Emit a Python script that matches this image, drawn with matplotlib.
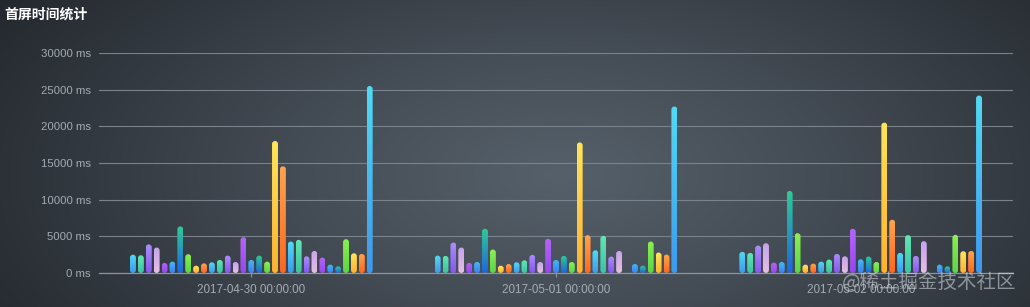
import numpy as np
import matplotlib
matplotlib.use('Agg')
import matplotlib.pyplot as plt
from matplotlib.patches import FancyBboxPatch
from matplotlib.colors import LinearSegmentedColormap, to_rgb

# ---------------- data ----------------
categories = ['2017-04-30 00:00:00', '2017-05-01 00:00:00', '2017-05-02 00:00:00']
n_series = 31
nan = np.nan
day_0430 = [2500, 2420, 3900, 3470, 1370, 1550, 6350, 2560, 1000, 1320,
            1460, 1780, 2370, 1500, 4890, 1780, 2370, 1550, 18000, 14550,
            4290, 4520, 2280, 3010, 2100, 1140, 910, 4610, 2690, 2600, 25500]
day_0501 = [2370, 2330, 4150, 3470, 1370, 1500, 6030, 3200, 1000, 1230,
            1460, 1730, 2470, 1500, 4660, 1780, 2330, 1500, 17800, 5160,
            3100, 5070, 2240, 3010, nan, 1230, 1000, 4290, 2790, 2510, 22700]
day_0502 = [2880, 2740, 3740, 4060, 1420, 1500, 11190, 5430, 1140, 1280,
            1550, 1830, 2600, 2280, 6030, 1870, 2240, 1500, 20500, 7260,
            2740, 5160, 2330, 4340, nan, 1140, 910, 5200, 2970, 3010, 24200]
yticks = [0, 5000, 10000, 15000, 20000, 25000, 30000]
ytick_labels = [f'{v} ms' for v in yticks]
title = '首屏时间统计'
watermark = '@稀土掘金技术社区'

# (top colour, bottom colour) gradient pairs, cycling
palette = [('#50dcf4', '#3f98ee'), ('#62e8b2', '#3cc2a6'), ('#ab8ffa', '#8656f2'),
           ('#c8a2ec', '#e6bfe2'), ('#b466f7', '#9646ef'), ('#42bcf8', '#3a7ff2'),
           ('#2ecc96', '#1e66de'), ('#8cf050', '#5cd448'), ('#ffe55c', '#ffb22e'),
           ('#ffa44e', '#ff661e')]

W_PX, H_PX = 1030, 307
fig = plt.figure(figsize=(W_PX / 100, H_PX / 100), dpi=100)

# background radial gradient
bg = fig.add_axes([0, 0, 1, 1], zorder=0)
yy, xx = np.mgrid[0:H_PX, 0:W_PX]
r = np.sqrt(((xx - 560) / 680.0) ** 2 + ((yy - 175) / 340.0) ** 2)
r = np.clip(r, 0, 1) ** 1.1
c_in = np.array(to_rgb('#56606a'))
c_out = np.array(to_rgb('#22262c'))
img = c_in * (1 - r)[..., None] + c_out * r[..., None]
bg.imshow(img, aspect='auto', extent=[0, 1, 0, 1], origin='upper')
bg.set_axis_off()

# main axes
left, right, bottom, top = 99, 1013, 273, 53
ax = fig.add_axes([left / W_PX, 1 - bottom / H_PX, (right - left) / W_PX, (bottom - top) / H_PX], zorder=1)
ax.patch.set_alpha(0)
ax.set_xlim(-0.5, len(categories) - 0.5)
ax.set_ylim(0, 30000)

step = 0.0259
width = 0.0195
x_idx = np.arange(len(categories))
day_values = np.array([day_0430, day_0501, day_0502], dtype=float)

dx_per_px = (len(categories)) / (right - left)
dy_per_px = 30000 / (bottom - top)
m_aspect = dy_per_px / dx_per_px

grad = np.linspace(0, 1, 128)[:, None]
for j in range(n_series):
    heights = day_values[:, j]
    xs = x_idx + (j - (n_series - 1) / 2) * step
    bars = ax.bar(xs, np.nan_to_num(heights), width=width, color='none', edgecolor='none')
    top_c, bot_c = palette[j % len(palette)]
    cmap = LinearSegmentedColormap.from_list(f's{j}', [bot_c, top_c])
    for rect, h in zip(bars.patches, heights):
        if not np.isfinite(h) or h <= 0:
            continue
        x0, y0 = rect.get_x(), rect.get_y()
        w, hh = rect.get_width(), rect.get_height()
        clip = FancyBboxPatch((x0, y0), w, hh,
                              boxstyle=f'round,pad=0,rounding_size={w / 2}',
                              mutation_aspect=m_aspect,
                              facecolor='none', edgecolor='none', transform=ax.transData)
        ax.add_patch(clip)
        im = ax.imshow(grad, cmap=cmap, aspect='auto', origin='lower',
                       extent=(x0, x0 + w, y0, y0 + hh), zorder=3, interpolation='bilinear')
        im.set_clip_path(clip)

ax.set_xlim(-0.5, len(categories) - 0.5)
ax.set_ylim(0, 30000)

# axes styling
for s in ['top', 'right', 'left']:
    ax.spines[s].set_visible(False)
ax.spines['bottom'].set_color('#8c959e')
ax.spines['bottom'].set_linewidth(0.9)
ax.spines['bottom'].set_zorder(4)
ax.set_yticks(yticks, ytick_labels)
ax.set_xticks(x_idx, categories)
ax.yaxis.grid(True, color='#79838d', linewidth=0.8)
ax.set_axisbelow(True)
ax.tick_params(axis='y', length=0, pad=6, labelsize=8.2, labelcolor='#a3abb3')
ax.tick_params(axis='x', length=3, width=0.8, color='#8c959e', pad=5, labelsize=8.4, labelcolor='#a3abb3')
for lab in ax.get_xticklabels() + ax.get_yticklabels():
    lab.set_family(['Liberation Sans', 'DejaVu Sans'])

fig.text(4 / W_PX, 1 - 15 / H_PX, title, ha='left', va='center', fontsize=10,
         fontweight='bold', color='white', family=['Noto Sans CJK SC', 'DejaVu Sans'])
fig.text(1016 / W_PX, 1 - 283 / H_PX, watermark, ha='right', va='center', fontsize=14,
         color=(0.85, 0.87, 0.9, 0.55), family=['Noto Sans CJK SC', 'DejaVu Sans'], zorder=5)

fig.savefig('out.png', dpi=100)
